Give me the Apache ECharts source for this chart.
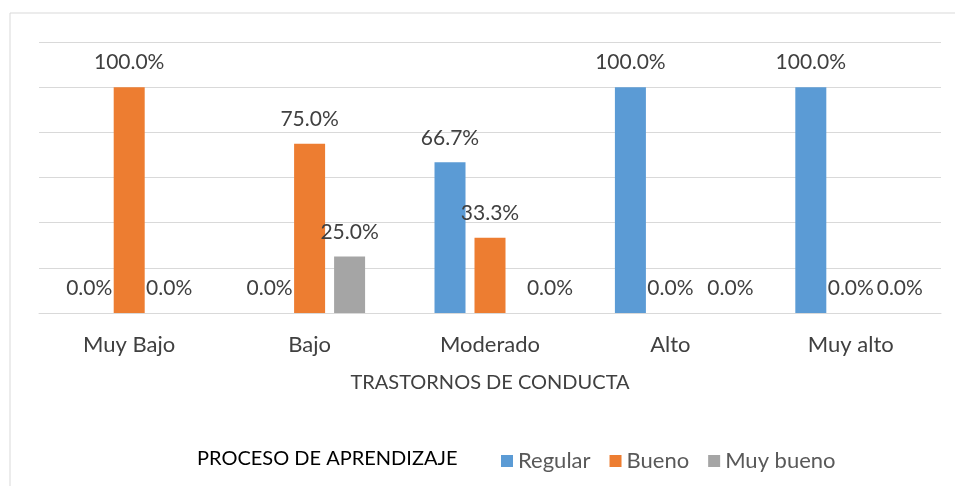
<!DOCTYPE html>
<html>
<head>
<meta charset="utf-8">
<script src="https://cdn.jsdelivr.net/npm/echarts@6/dist/echarts.min.js"></script>
<style>
  html, body { margin: 0; padding: 0; background: #fff; }
  #chart { width: 955px; height: 486px; }
</style>
</head>
<body>
<div id="chart"></div>
<script>
var categorias = ['Muy Bajo', 'Bajo', 'Moderado', 'Alto', 'Muy alto'];
var regular = [0, 0, 66.7, 100, 100];
var bueno = [100, 75, 33.3, 0, 0];
var muyBueno = [0, 25, 0, 0, 0];
var series_names = ['Regular', 'Bueno', 'Muy bueno'];

// excel moves some of the 0.0% labels sideways
var grayShift = [0, 0, 20, 20, 9];

var font = 'Lato, "Open Sans", sans-serif';
var txt = '#404040';

function labelCfg() {
    return {
        show: true,
        position: 'top',
        distance: 14,
        color: txt,
        fontFamily: font,
        fontSize: 21,
        formatter: function (p) { return p.value.toFixed(1) + '%'; }
    };
}

var chart = echarts.init(document.getElementById('chart'));
chart.setOption({
    animation: false,
    color: ['#5B9BD5', '#ED7D31', '#A5A5A5'],
    graphic: [
        {
            type: 'rect',
            shape: { x: 10, y: 13, width: 1000, height: 600 },
            style: { fill: 'none', stroke: '#d9d9d9', lineWidth: 1 },
            silent: true
        },
        {
            type: 'text',
            left: 197,
            top: 449,
            style: { text: 'PROCESO DE APRENDIZAJE', fill: '#000', font: '20px ' + font }
        }
    ],
    grid: { left: 39, right: 14, top: 42, bottom: 173 },
    legend: {
        data: series_names,
        left: 496,
        top: 445,
        itemWidth: 12,
        itemHeight: 12,
        itemGap: 19,
        icon: 'rect',
        textStyle: { color: '#595959', fontFamily: font, fontSize: 22 }
    },
    xAxis: {
        type: 'category',
        data: categorias,
        name: 'TRASTORNOS DE CONDUCTA',
        nameLocation: 'middle',
        nameGap: 60,
        nameTextStyle: { color: txt, fontFamily: font, fontSize: 20 },
        axisLine: { lineStyle: { color: '#d9d9d9', width: 1 } },
        axisTick: { show: false },
        axisLabel: { color: txt, fontFamily: font, fontSize: 22, margin: 21 }
    },
    yAxis: {
        type: 'value',
        min: 0,
        max: 120,
        interval: 20,
        axisLabel: { show: false },
        axisLine: { show: false },
        axisTick: { show: false },
        splitLine: { lineStyle: { color: '#d9d9d9', width: 1 } }
    },
    series: [
        { name: series_names[0], type: 'bar', data: regular, barWidth: 31, barGap: '29%', label: labelCfg() },
        { name: series_names[1], type: 'bar', data: bueno, barWidth: 31, barGap: '29%', label: labelCfg() },
        {
            name: series_names[2], type: 'bar', barWidth: 31, barGap: '29%', label: labelCfg(),
            data: muyBueno.map(function (v, i) {
                return { value: v, label: { offset: [grayShift[i], 0] } };
            })
        }
    ]
});
</script>
</body>
</html>
